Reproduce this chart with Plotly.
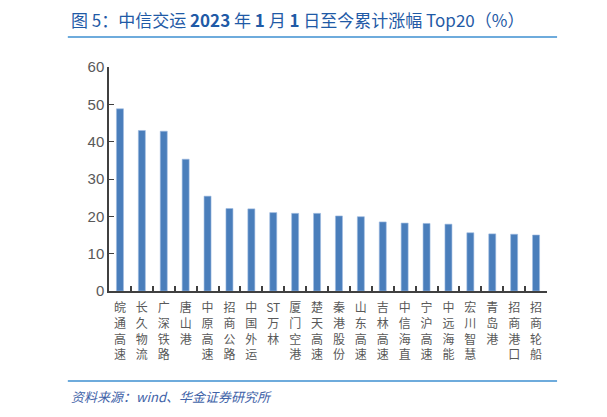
import plotly.graph_objects as go

names = ['皖通高速', '长久物流', '广深铁路', '唐山港', '中原高速', '招商公路', '中国外运',
         'ST万林', '厦门空港', '楚天高速', '秦港股份', '山东高速', '吉林高速', '中信海直',
         '宁沪高速', '中远海能', '宏川智慧', '青岛港', '招商港口', '招商轮船']
gains = [48.8, 43.0, 42.8, 35.3, 25.4, 22.1, 22.0, 21.0, 20.8, 20.8,
         20.1, 19.9, 18.5, 18.2, 18.1, 17.9, 15.6, 15.3, 15.2, 15.0]
y_ticks = [0, 10, 20, 30, 40, 50, 60]


def vertical(name):
    # stack characters top to bottom, keep "ST" together
    if name.startswith('ST'):
        return '<br>'.join(['ST'] + list(name[2:]))
    return '<br>'.join(list(name))


labels = [vertical(n) for n in names]

fig = go.Figure()
fig.add_trace(go.Bar(
    x=labels,
    y=gains,
    width=0.32,
    marker=dict(color='#4A7EBB', line=dict(color='#9DBBE0', width=0.6)),
))

fig.update_layout(
    width=607,
    height=417,
    margin=dict(l=101, r=68, t=59, b=134),
    plot_bgcolor='white',
    paper_bgcolor='white',
    showlegend=False,
    font=dict(family='Noto Sans CJK SC, Liberation Sans, Arial', color='#595959'),
    xaxis=dict(
        showline=True, linecolor='#404040', linewidth=2,
        ticks='inside', ticklen=5, tickcolor='#404040', tickwidth=1.5,
        tickson='boundaries',
        tickfont=dict(size=12, color='#595959'),
        ticklabelstandoff=5,
        showgrid=False,
        tickangle=0,
    ),
    yaxis=dict(
        range=[0, 60], tickvals=y_ticks,
        showline=True, linecolor='#404040', linewidth=1.5,
        ticks='inside', ticklen=5, tickcolor='#404040',
        tickfont=dict(size=15, color='#595959', family='Liberation Sans, Arial'),
        showgrid=False, zeroline=False,
    ),
)

# title and footer
fig.add_annotation(
    text='图 5：中信交运 <b>2023</b> 年 <b>1</b> 月 <b>1</b> 日至今累计涨幅 Top20（%）',
    xref='paper', yref='paper', x=-0.091, y=1.21, xanchor='left', yanchor='middle',
    showarrow=False, font=dict(size=17, color='#1F5AA6', family='Noto Sans CJK SC'),
)
fig.add_shape(type='line', xref='paper', yref='paper', x0=-0.094, x1=1.023, y0=1.134, y1=1.134,
              line=dict(color='#3E8FD0', width=1.5))
fig.add_shape(type='line', xref='paper', yref='paper', x0=-0.094, x1=1.023, y0=-0.402, y1=-0.402,
              line=dict(color='#3E8FD0', width=1.5))
fig.add_annotation(
    text='<i>资料来源：wind、华金证券研究所</i>',
    xref='paper', yref='paper', x=-0.091, y=-0.473, xanchor='left', yanchor='middle',
    showarrow=False, font=dict(size=13, color='#3F63A8', family='Noto Sans CJK SC'),
)

fig.write_html('out.html')
